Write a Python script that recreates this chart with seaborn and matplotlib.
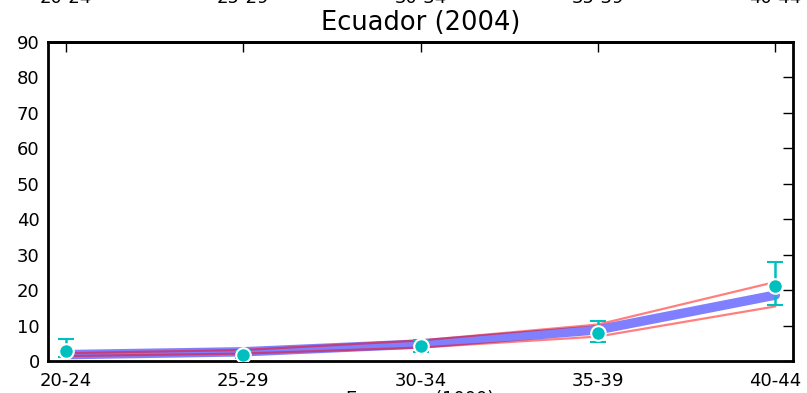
import matplotlib
matplotlib.use('Agg')
from matplotlib import pyplot as plt
import seaborn as sns
import numpy as np
import pandas as pd

# age groups and values
ages = ['20-24', '25-29', '30-34', '35-39', '40-44']
model_mid = [1.8, 2.6, 4.8, 8.8, 18.6]
model_hi = [2.2, 3.1, 5.8, 10.3, 22.3]
model_lo = [1.4, 2.1, 3.8, 6.9, 15.4]
obs = [2.8, 1.7, 4.2, 7.9, 21.2]
obs_hi = [6.2, 2.8, 5.9, 11.3, 27.9]
obs_lo = [1.1, 0.8, 2.5, 5.4, 15.8]
yticks = [0, 10, 20, 30, 40, 50, 60, 70, 80, 90]

sns.set_style('white')
plt.rcParams['font.family'] = ['DejaVu Sans']
plt.rcParams['text.color'] = 'black'
plt.rcParams['axes.labelcolor'] = 'black'

df = pd.DataFrame({'x': np.arange(len(ages)), 'mid': model_mid, 'hi': model_hi,
                   'lo': model_lo, 'obs': obs, 'obs_hi': obs_hi, 'obs_lo': obs_lo})

fig = plt.figure(figsize=(8.07, 3.93), dpi=100)
ax = fig.add_axes([0.0595, 0.0814, 0.9232, 0.8117])

sns.lineplot(data=df, x='x', y='mid', color=(0.5, 0.5, 1.0), lw=6.8, ax=ax)
sns.lineplot(data=df, x='x', y='hi', color='red', alpha=0.5, lw=1.6, ax=ax)
sns.lineplot(data=df, x='x', y='lo', color='red', alpha=0.5, lw=1.6, ax=ax)
ax.errorbar(df.x, df.obs, yerr=[df.obs - df.obs_lo, df.obs_hi - df.obs], fmt='none',
            ecolor='c', elinewidth=1.8, capsize=6, capthick=1.5, zorder=4)
sns.scatterplot(data=df, x='x', y='obs', color='c', s=110, edgecolor='white',
                linewidth=1.5, zorder=5, ax=ax)

ax.set_xlim(-0.1, 4.1)
ax.set_ylim(0, 90)
ax.set_yticks(yticks)
ax.set_xticks(df.x)
ax.set_xticklabels(ages)
ax.tick_params(direction='in', length=7, width=1, top=False, right=True,
               labelsize=13, colors='black', pad=8)
ax.tick_params(axis='y', pad=6)

sec = ax.secondary_xaxis('top')
sec.set_xticks(df.x)
sec.set_xticklabels(ages)
sec.tick_params(direction='in', length=7, width=1, labelsize=13, colors='black', pad=25)

for sp in list(ax.spines.values()) + list(sec.spines.values()):
    sp.set_linewidth(2)
    sp.set_color('black')

ax.set_title('Ecuador (2004)', fontsize=18.5, y=1.0, pad=9)
ax.set_xlabel('Exposure (1000)', fontsize=13, labelpad=0)
ax.set_ylabel('')

fig.savefig('out.png', dpi=100)
